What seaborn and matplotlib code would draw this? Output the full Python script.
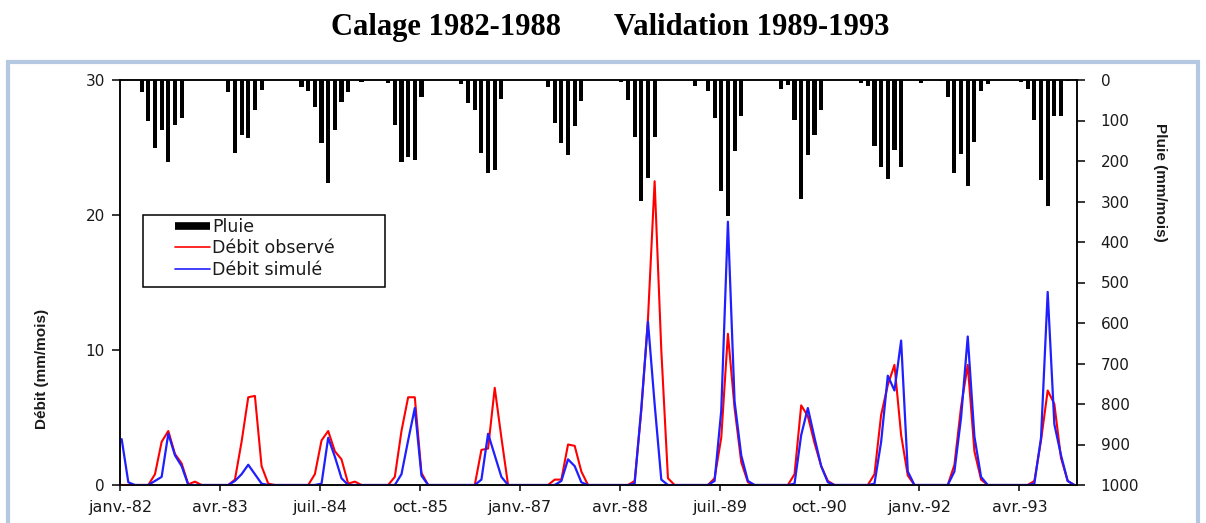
import numpy as np
import pandas as pd
import matplotlib
matplotlib.use("Agg")
import matplotlib.pyplot as plt
import seaborn as sns
from matplotlib.lines import Line2D
from matplotlib.patches import Rectangle

# ---------------- data (monthly, Jan 1982 - Dec 1993) ----------------
months = pd.date_range("1982-01-01", "1993-12-01", freq="MS")

tick_labels = ["janv.-82", "avr.-83", "juil.-84", "oct.-85", "janv.-87",
               "avr.-88", "juil.-89", "oct.-90", "janv.-92", "avr.-93"]

# Pluie (mm/mois)
rain = [
    0, 0, 0, 29, 100, 168, 123, 202, 111, 95, 0, 0,        # 1982
    0, 0, 0, 0, 30, 181, 135, 143, 75, 25, 0, 0,           # 1983
    0, 0, 0, 17, 26, 66, 155, 254, 123, 54, 29, 0,         # 1984
    4, 0, 0, 0, 8, 111, 202, 190, 198, 41, 0, 0,           # 1985
    0, 0, 0, 11, 58, 74, 181, 230, 222, 46, 0, 0,          # 1986
    0, 0, 0, 0, 18, 107, 156, 185, 114, 52, 0, 0,          # 1987
    0, 0, 0, 5, 49, 140, 299, 243, 140, 0, 0, 0,           # 1988
    0, 0, 16, 3, 28, 95, 274, 335, 175, 89, 0, 0,          # 1989
    0, 0, 0, 21, 13, 99, 294, 186, 136, 73, 0, 0,          # 1990
    0, 0, 0, 8, 14, 162, 214, 245, 173, 214, 0, 0,         # 1991
    7, 0, 0, 2, 42, 230, 183, 262, 153, 27, 9, 0,          # 1992
    0, 0, 0, 5, 22, 99, 246, 310, 90, 90, 2, 0,            # 1993
]

# Débit observé (mm/mois)
q_obs = [
    0, 0, 0, 0, 0, 0.8, 3.2, 4.0, 2.3, 1.6, 0.05, 0.25,
    0, 0, 0, 0, 0, 0.4, 3.2, 6.5, 6.6, 1.4, 0.1, 0,
    0, 0, 0, 0, 0, 0.8, 3.3, 4.0, 2.5, 1.9, 0.1, 0.25,
    0, 0, 0, 0, 0, 0.6, 4.0, 6.5, 6.5, 0.9, 0, 0,
    0, 0, 0, 0, 0, 0, 2.6, 2.7, 7.2, 3.5, 0, 0,
    0, 0, 0, 0, 0, 0.4, 0.4, 3.0, 2.9, 1.0, 0, 0,
    0, 0, 0, 0, 0, 0.3, 5.5, 12.3, 22.5, 10.0, 0.5, 0,
    0, 0, 0, 0, 0, 0.5, 3.5, 11.2, 5.7, 1.7, 0.2, 0,
    0, 0, 0, 0, 0, 0.8, 5.9, 5.1, 3.1, 1.4, 0.3, 0,
    0, 0, 0, 0, 0, 0.8, 5.2, 7.4, 8.9, 3.7, 0.7, 0,
    0, 0, 0, 0, 0, 1.5, 5.8, 8.9, 2.5, 0.4, 0, 0,
    0, 0, 0, 0, 0, 0.3, 3.3, 7.0, 6.0, 2.0, 0.3, 0,
]

# Débit simulé (mm/mois)
q_sim = [
    3.4, 0.2, 0, 0, 0, 0.3, 0.6, 3.8, 2.2, 1.4, 0, 0,
    0, 0, 0, 0, 0, 0.3, 0.8, 1.5, 0.8, 0.1, 0, 0,
    0, 0, 0, 0, 0, 0, 0.1, 3.5, 2.1, 0.5, 0, 0,
    0, 0, 0, 0, 0, 0, 0.8, 3.3, 5.7, 0.7, 0, 0,
    0, 0, 0, 0, 0, 0, 0.4, 3.8, 2.2, 0.6, 0, 0,
    0, 0, 0, 0, 0, 0, 0.3, 1.9, 1.4, 0.2, 0, 0,
    0, 0, 0, 0, 0, 0.1, 5.7, 12.1, 6.0, 0.4, 0, 0,
    0, 0, 0, 0, 0, 0.3, 5.5, 19.5, 6.2, 2.2, 0.3, 0,
    0, 0, 0, 0, 0, 0.1, 3.7, 5.7, 3.5, 1.4, 0.2, 0,
    0, 0, 0, 0, 0, 0.1, 3.2, 8.1, 7.0, 10.7, 1.0, 0,
    0, 0, 0, 0, 0, 1.0, 5.0, 11.0, 3.6, 0.6, 0, 0,
    0, 0, 0, 0, 0, 0.1, 3.5, 14.3, 4.5, 2.2, 0.3, 0,
]

# ---------------- figure ----------------
sns.set_style("white")
plt.rcParams['font.family'] = ['DejaVu Sans']

W, H = 1206, 523
fig = plt.figure(figsize=(W / 100, H / 100), dpi=100)
fig.patch.set_facecolor("white")

ax = fig.add_axes([120 / W, 1 - 485 / H, 957 / W, 405 / H])
ax2 = ax.twinx()

pos = np.arange(len(months)) + 0.25
df = pd.DataFrame({"pos": pos, "rain": rain, "obs": q_obs, "sim": q_sim})

# rainfall bars hanging from the top (inverted right axis)
ax2.bar(df["pos"], df["rain"], width=0.62, color="black", linewidth=0)
ax2.set_ylim(1000, 0)
ax2.set_yticks(np.arange(0, 1001, 100))

# discharge lines above the bars
ax.set_zorder(ax2.get_zorder() + 1)
ax.patch.set_visible(False)
sns.lineplot(data=df, x="pos", y="obs", color="#ff0000", lw=1.5, ax=ax, legend=False)
sns.lineplot(data=df, x="pos", y="sim", color="#1f1fff", lw=1.6, ax=ax, legend=False)

ax.set_xlim(0, 143.65)
ax.set_ylim(0, 30)
ax.set_yticks([0, 10, 20, 30])
ax.set_xticks(np.arange(0, 144, 15))
ax.set_xticklabels(tick_labels)
ax.set_xlabel("")

txt_col = "#1a1a1a"
for a in (ax, ax2):
    for s in a.spines.values():
        s.set_visible(True)
        s.set_color("black")
        s.set_linewidth(1.1)

ax.tick_params(axis="x", bottom=True, direction="out", length=4, width=1.1,
               pad=7, labelsize=11.5, labelcolor=txt_col, color="black")
ax.tick_params(axis="y", left=True, direction="out", length=6, width=1.1,
               pad=5, labelsize=11, labelcolor=txt_col, color="black")
ax2.tick_params(axis="y", right=True, direction="out", length=6, width=1.1,
                pad=11, labelsize=11, labelcolor=txt_col, color="black")

lab_font = ["Liberation Sans Narrow", "Liberation Sans", "DejaVu Sans"]
ax.set_ylabel("Débit (mm/mois)", fontfamily=lab_font, fontweight="bold",
              fontsize=11, color=txt_col)
ax.yaxis.set_label_coords(-0.0815, 0.286)
ax.yaxis.label.set_va("center")
ax2.set_ylabel("Pluie (mm/mois)", fontfamily=lab_font, fontweight="bold",
               fontsize=11, color=txt_col, rotation=270)
ax2.yaxis.set_label_coords(1.087, 0.748)
ax2.yaxis.label.set_va("center")
ax2.yaxis.label.set_ha("center")

# legend (frame drawn as a box, entries inside)
ax.add_patch(Rectangle((0.024, 0.489), 0.253, 0.178, transform=ax.transAxes,
                       fill=False, ec="black", lw=1.1, zorder=5))
handles = [Line2D([0], [0], color="black", lw=5.5, solid_capstyle="butt"),
           Line2D([0], [0], color="#ff0000", lw=1.2),
           Line2D([0], [0], color="#1f1fff", lw=1.2)]
leg = ax.legend(handles, ["Pluie", "Débit observé", "Débit simulé"],
                loc="upper left", bbox_to_anchor=(0.0575, 0.66), frameon=False,
                borderpad=0, borderaxespad=0, handlelength=2.0,
                handletextpad=0.15, labelspacing=0.2, fontsize=12.5)
for t in leg.get_texts():
    t.set_color(txt_col)

# outer chart frame
fig.patches.append(Rectangle((8 / W, -0.05), 1190 / W, 1.05 - 62 / H,
                             transform=fig.transFigure, fill=False,
                             ec="#b4c8e2", lw=3))

# title
fig.text(610 / W, 1 - 28 / H, "Calage 1982-1988       Validation 1989-1993",
         ha="center", va="center", fontsize=22, fontweight="bold",
         fontfamily=["Liberation Serif", "DejaVu Serif"], color="black")

fig.savefig("out.png", dpi=100)
